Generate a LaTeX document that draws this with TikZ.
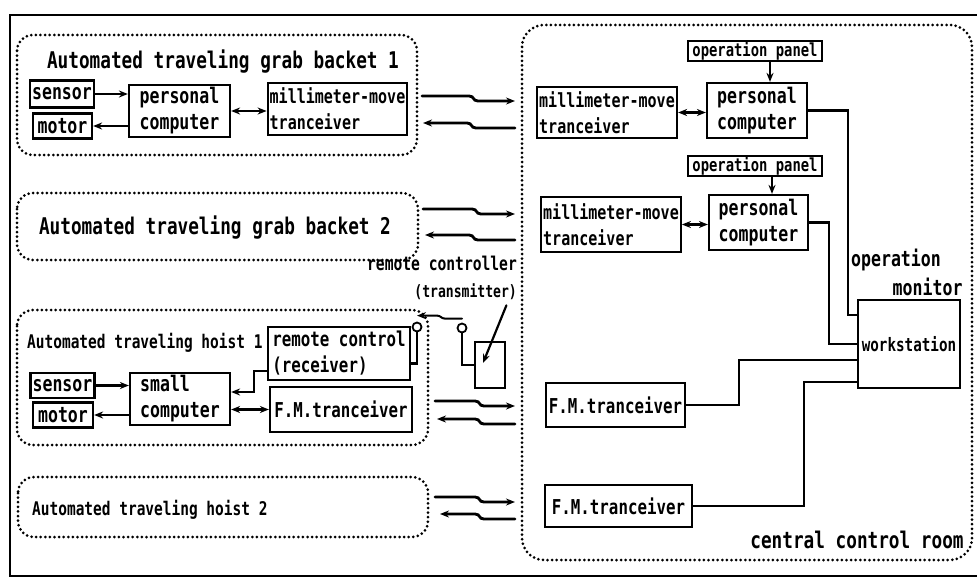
\documentclass[tikz,border=0pt]{standalone}
\usepackage{fontspec}
\usetikzlibrary{arrows.meta}
\newfontfamily\scanfont{DejaVu Sans Mono}[FakeStretch=0.77]

\begin{document}
\begin{tikzpicture}[x=1pt,y=-1pt,>={Stealth[length=9pt,width=7pt]},line cap=round,
  box/.style={draw,line width=2.2pt,inner sep=2pt,align=left},
  grp/.style={line width=3pt,dash pattern=on 0pt off 4.6pt,rounded corners=16pt},
  link/.style={line width=2.2pt},
  zap/.style={line width=2.8pt,to path={-- ++(#1,0) .. controls +(6,0) and +(-6,0) .. ++(9,5) -- (\tikztotarget)}},
  ant/.style={draw,circle,line width=1.8pt,inner sep=0pt,minimum size=9pt},
  fA/.style={font=\scanfont\bfseries\fontsize{23}{27}\selectfont},
  fB/.style={font=\scanfont\bfseries\fontsize{21.5}{26}\selectfont},
  fC/.style={font=\scanfont\bfseries\fontsize{19.5}{26}\selectfont},
  fD/.style={font=\scanfont\bfseries\fontsize{20.5}{26}\selectfont},
  fE/.style={font=\scanfont\bfseries\fontsize{19}{27}\selectfont},
  fF/.style={font=\scanfont\bfseries\fontsize{18}{20}\selectfont}]
\useasboundingbox (0,0) rectangle (977,586);
\draw[line width=1.4pt] (977,15) -- (10,15) -- (10,576) -- (977,576);

% grab backet 1
\draw[grp] (17,35) rectangle (417,155);
\node[fA] (t1) at (223,62) {Automated traveling grab backet 1};
\node[box,fB,minimum width=60pt,minimum height=27pt] (sen1) at (62,94) {sensor};
\node[box,fB,minimum width=59pt,minimum height=25pt] (mot1) at (62.5,126) {motor};
\node[box,fB,minimum width=101pt,minimum height=52pt] (pc1) at (179.5,111) {personal\\computer};
\node[box,fC,minimum width=139pt,minimum height=52pt] (mm1) at (337.5,109) {millimeter-move\\tranceiver};
\draw[link,->] (sen1.east) -- (sen1.east -| pc1.west);
\draw[link,->] (mot1.east -| pc1.west) -- (mot1.east);
\draw[link,<->] (pc1.east) -- (pc1.east -| mm1.west);

% grab backet 2
\draw[grp] (17,193) rectangle (418,260);
\node[fA] (t2) at (215,228) {Automated traveling grab backet 2};

% hoist 1
\draw[grp] (17,310) rectangle (428,445);
\node[fC,font=\scanfont\bfseries\fontsize{18.8}{26}\selectfont,anchor=west,inner sep=0pt] (t3) at (27,343) {Automated traveling hoist 1};
\node[box,fD,minimum width=142pt,minimum height=53pt] (rcv) at (339,353.5) {remote control\\(receiver)};
\node[box,fB,minimum width=59pt,minimum height=25pt] (sen2) at (62.5,385.5) {sensor};
\node[box,fB,minimum width=100pt,minimum height=52pt] (sc) at (180,399) {small\\computer};
\node[box,fB,minimum width=60pt,minimum height=25pt] (mot2) at (63,415) {motor};
\node[box,fD,minimum width=142pt,minimum height=45pt] (fm0) at (341,409.5) {F.M.tranceiver};
\draw[link,->] (sen2.east) -- (sen2.east -| sc.west);
\draw[link,->] (mot2.east -| sc.west) -- (mot2.east);
\draw[link,<->] (fm0.west -| sc.east) -- (fm0.west);
\draw[link,->] ([yshift=10pt]rcv.south west) -- ++(-13,0) |- ([yshift=7pt]sc.east);

% remote controller
\node[fE,align=right] (rcl) at (442,278) {remote controller\\{\fontsize{17}{27}\selectfont(transmitter)}};
\node[ant] (ra) at (417,327) {};
\node[ant] (ta) at (462,328) {};
\node[draw,line width=2.2pt,minimum width=30pt,minimum height=46pt] (tx) at (490,365) {};
\draw[link] (ra.south) |- ([yshift=-10pt]rcv.east);
\draw[link] (ta.south) |- (tx.west);
\draw[link,->] ([xshift=-14pt,yshift=-2pt]rcl.south east) -- ([xshift=-7pt,yshift=2pt]tx.center);
\draw[line width=2pt,<-] ([yshift=6pt]ra.north) -- ++(20,0) .. controls +(4,0) and +(-4,0) .. ++(8,3) -- ([yshift=4pt]ta.north);

% hoist 2
\draw[grp] (18,477) rectangle (428,537);
\node[fC,font=\scanfont\bfseries\fontsize{18.8}{26}\selectfont,anchor=west,inner sep=0pt] (t4) at (32,510) {Automated traveling hoist 2};

% central control room
\draw[grp,rounded corners=22pt] (522,25) rectangle (972,560);
\node[box,fF,inner sep=1pt,minimum width=134pt,minimum height=18pt] (op1) at (755,51) {operation panel};
\node[box,fB,minimum width=100pt,minimum height=55pt] (pc2) at (757,110.5) {personal\\computer};
\node[box,fC,minimum width=140pt,minimum height=51pt] (mm2) at (607,112.5) {millimeter-move\\tranceiver};
\node[box,fF,inner sep=1pt,minimum width=134pt,minimum height=18pt] (op2) at (755,166) {operation panel};
\node[box,fB,minimum width=99pt,minimum height=55pt] (pc3) at (758.5,222.5) {personal\\computer};
\node[box,fC,minimum width=138pt,minimum height=55pt] (mm3) at (611,224.5) {millimeter-move\\tranceiver};
\node[box,font=\scanfont\bfseries\fontsize{18.5}{22}\selectfont,minimum width=102pt,minimum height=88pt] (ws) at (909,344) {workstation};
\node[fB] (om1) at (896,260) {operation};
\node[fB,anchor=east] (om2) at (966,287) {monitor};
\node[box,fD,minimum width=139pt,minimum height=44pt] (fm1) at (615.5,405) {F.M.tranceiver};
\node[box,fD,minimum width=147pt,minimum height=42pt] (fm2) at (618.5,506) {F.M.tranceiver};
\node[fA] (crm) at (857,540) {central control room};
\draw[link,->] ([xshift=15pt]op1.south) -- ([xshift=13pt]pc2.north);
\draw[link,->] ([xshift=17pt]op2.south) -- ([xshift=13.5pt]pc3.north);
\draw[link,<->] (mm2.east) -- (mm2.east -| pc2.west);
\draw[link,<->] (mm3.east) -- (mm3.east -| pc3.west);
\draw[link] (pc2.east) -- ++(40,0) |- ([yshift=29pt]ws.west);
\draw[link] (pc3.east) -- ++(20,0) |- (ws.west);
\draw[link] ([yshift=-16pt]ws.west) -- ++(-118,0) |- (fm1.east);
\draw[link] ([yshift=-38pt]ws.west) -- ++(-53,0) |- (fm2.east);

% radio links
\coordinate (z1a) at (422,96);  \coordinate (z1b) at (515,101);
\coordinate (z2a) at (423,123); \coordinate (z2b) at (515,128);
\coordinate (z3a) at (423,209); \coordinate (z3b) at (515,214);
\coordinate (z4a) at (425,235); \coordinate (z4b) at (515,240);
\coordinate (z5a) at (435,401); \coordinate (z5b) at (515,406);
\coordinate (z6a) at (437,419); \coordinate (z6b) at (515,424);
\coordinate (z7a) at (435,497); \coordinate (z7b) at (515,502);
\coordinate (z8a) at (440,514); \coordinate (z8b) at (515,519);
\draw[zap=47,->] (z1a) to (z1b);
\draw[zap=44,<-] (z2a) to (z2b);
\draw[zap=49,->] (z3a) to (z3b);
\draw[zap=44,<-] (z4a) to (z4b);
\draw[zap=40,->] (z5a) to (z5b);
\draw[zap=38,<-] (z6a) to (z6b);
\draw[zap=40,->] (z7a) to (z7b);
\draw[zap=35,<-] (z8a) to (z8b);
\end{tikzpicture}
\end{document}
